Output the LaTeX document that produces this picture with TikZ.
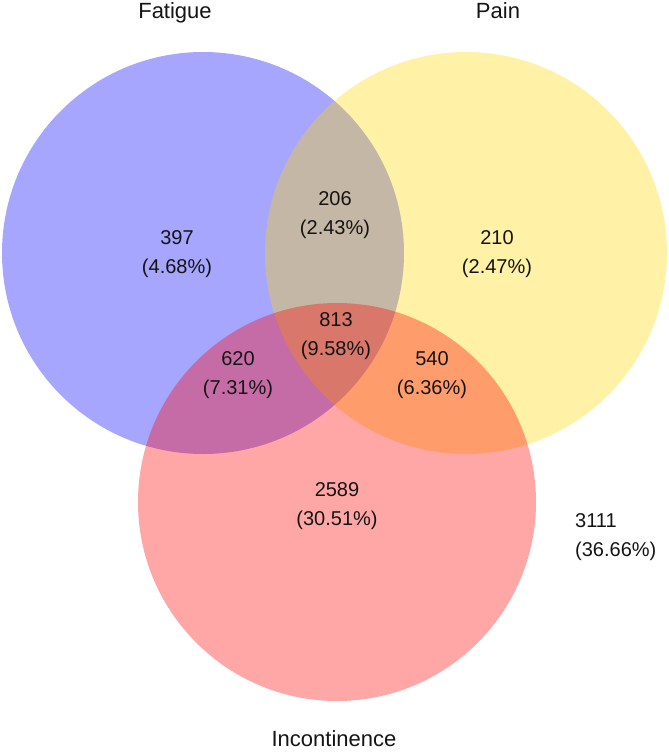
\documentclass[tikz,border=0pt]{standalone}
\usepackage{fontspec}
\setmainfont{Liberation Sans}
\definecolor{vblue}{RGB}{0,0,255}
\definecolor{vgold}{RGB}{255,215,0}
\definecolor{vred}{RGB}{255,0,0}
\definecolor{txt}{RGB}{20,20,20}
\begin{document}
\begin{tikzpicture}[x=1pt,y=-1pt,
  setfill/.style={fill=#1, fill opacity=0.35, draw=none},
  lbl/.style={font=\fontsize{20}{29}\selectfont, text=txt, align=center, inner sep=0pt},
  ttl/.style={font=\fontsize{22}{26}\selectfont, text=txt, inner sep=0pt, anchor=base}]
\useasboundingbox (0,0) rectangle (669,753);
\fill[setfill=vblue] (203,253) circle[radius=201pt];
\fill[setfill=vgold] (466,253) circle[radius=201pt];
\fill[setfill=vred] (337,502) circle[radius=199pt];
\node[ttl] (tf) at (175,18) {Fatigue};
\node[ttl] (tp) at (498,18) {Pain};
\node[ttl] (ti) at (334,746) {Incontinence};
\node[lbl] (a) at (177,254) {397\\(4.68\%)};
\node[lbl] (b) at (335,215) {206\\(2.43\%)};
\node[lbl] (c) at (497,254) {210\\(2.47\%)};
\node[lbl] (d) at (336,336) {813\\(9.58\%)};
\node[lbl] (e) at (238,375) {620\\(7.31\%)};
\node[lbl] (f) at (432,375) {540\\(6.36\%)};
\node[lbl] (g) at (337,506) {2589\\(30.51\%)};
\node[lbl, align=left, anchor=west] (h) at (575,537) {3111\\(36.66\%)};
\end{tikzpicture}
\end{document}
